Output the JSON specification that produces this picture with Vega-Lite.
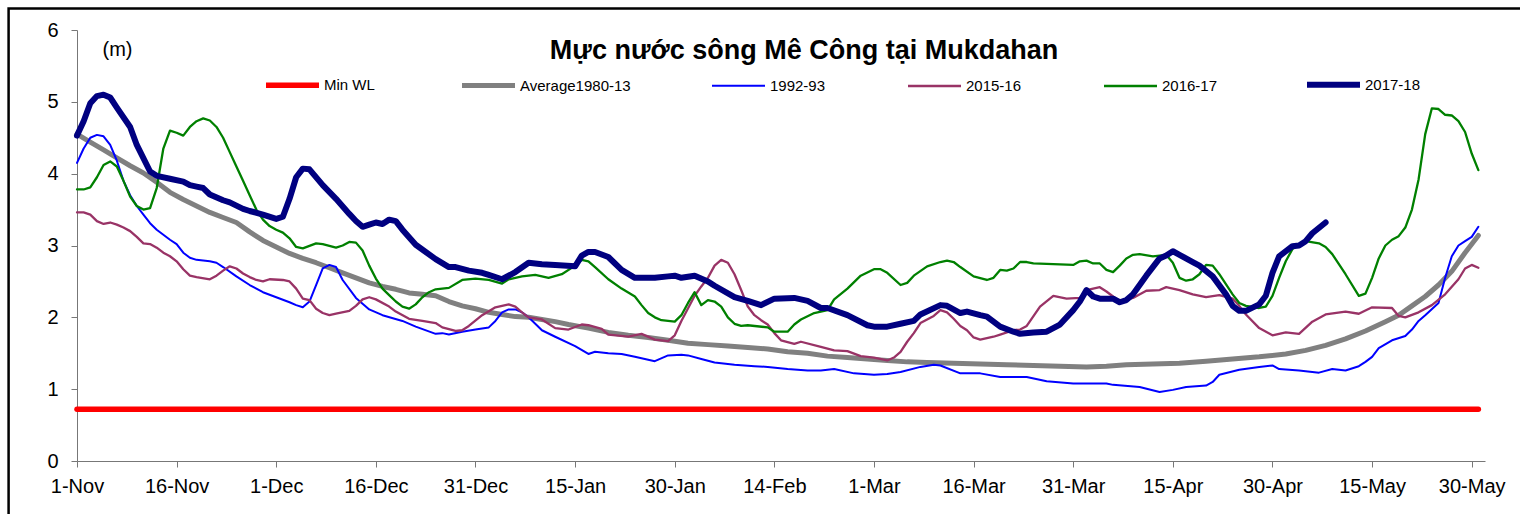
{
  "$schema": "https://vega.github.io/schema/vega-lite/v6.json",
  "width": 1408,
  "height": 431,
  "autosize": {"type": "none"},
  "padding": {"left": 77, "top": 30, "right": 35, "bottom": 53},
  "background": "white",
  "config": {"view": {"stroke": null}, "font": "Liberation Sans"},
  "title": {
    "text": "Mực nước sông Mê Công tại Mukdahan",
    "font": "Liberation Sans",
    "fontSize": 27,
    "fontWeight": "bold",
    "color": "black",
    "anchor": "middle",
    "frame": "group",
    "baseline": "alphabetic",
    "offset": -79,
    "dx": 23
  },
  "layer": [
    {
      "data": {"values": [{}]},
      "mark": {"type": "rect", "fill": null, "stroke": "black", "strokeWidth": 2.5, "clip": false},
      "encoding": {
        "x": {"datum": -10.3, "type": "quantitative"},
        "x2": {"datum": 240},
        "y": {"datum": 6.3, "type": "quantitative"},
        "y2": {"datum": -2}
      }
    },
    {
      "data": {"values": [
        {"series":"Min WL","day":0,"level":0.72},{"series":"Min WL","day":211,"level":0.72},

        {"series":"Average1980-13","day":0,"level":4.55},{"series":"Average1980-13","day":2,"level":4.44},{"series":"Average1980-13","day":4,"level":4.33},{"series":"Average1980-13","day":6,"level":4.22},{"series":"Average1980-13","day":8,"level":4.11},{"series":"Average1980-13","day":10,"level":4.01},{"series":"Average1980-13","day":12,"level":3.88},{"series":"Average1980-13","day":14,"level":3.74},{"series":"Average1980-13","day":16,"level":3.64},{"series":"Average1980-13","day":18,"level":3.55},{"series":"Average1980-13","day":20,"level":3.46},{"series":"Average1980-13","day":22,"level":3.39},{"series":"Average1980-13","day":24,"level":3.32},{"series":"Average1980-13","day":26,"level":3.19},{"series":"Average1980-13","day":28,"level":3.07},{"series":"Average1980-13","day":30,"level":2.98},{"series":"Average1980-13","day":32,"level":2.89},{"series":"Average1980-13","day":34,"level":2.82},{"series":"Average1980-13","day":36,"level":2.76},{"series":"Average1980-13","day":38,"level":2.69},{"series":"Average1980-13","day":40,"level":2.62},{"series":"Average1980-13","day":42,"level":2.55},{"series":"Average1980-13","day":44,"level":2.48},{"series":"Average1980-13","day":46,"level":2.43},{"series":"Average1980-13","day":48,"level":2.39},{"series":"Average1980-13","day":50,"level":2.34},{"series":"Average1980-13","day":52,"level":2.32},{"series":"Average1980-13","day":54,"level":2.30},{"series":"Average1980-13","day":56,"level":2.22},{"series":"Average1980-13","day":58,"level":2.16},{"series":"Average1980-13","day":60,"level":2.12},{"series":"Average1980-13","day":62,"level":2.07},{"series":"Average1980-13","day":64,"level":2.04},{"series":"Average1980-13","day":66,"level":2.01},{"series":"Average1980-13","day":68,"level":2.00},{"series":"Average1980-13","day":70,"level":1.97},{"series":"Average1980-13","day":72,"level":1.94},{"series":"Average1980-13","day":74,"level":1.90},{"series":"Average1980-13","day":77,"level":1.85},{"series":"Average1980-13","day":80,"level":1.79},{"series":"Average1980-13","day":83,"level":1.75},{"series":"Average1980-13","day":86,"level":1.72},{"series":"Average1980-13","day":89,"level":1.68},{"series":"Average1980-13","day":92,"level":1.64},{"series":"Average1980-13","day":95,"level":1.62},{"series":"Average1980-13","day":98,"level":1.60},{"series":"Average1980-13","day":101,"level":1.58},{"series":"Average1980-13","day":104,"level":1.56},{"series":"Average1980-13","day":107,"level":1.52},{"series":"Average1980-13","day":110,"level":1.50},{"series":"Average1980-13","day":113,"level":1.46},{"series":"Average1980-13","day":116,"level":1.44},{"series":"Average1980-13","day":119,"level":1.42},{"series":"Average1980-13","day":122,"level":1.40},{"series":"Average1980-13","day":125,"level":1.38},{"series":"Average1980-13","day":128,"level":1.37},{"series":"Average1980-13","day":132,"level":1.36},{"series":"Average1980-13","day":136,"level":1.35},{"series":"Average1980-13","day":140,"level":1.34},{"series":"Average1980-13","day":144,"level":1.33},{"series":"Average1980-13","day":148,"level":1.32},{"series":"Average1980-13","day":152,"level":1.31},{"series":"Average1980-13","day":155,"level":1.32},{"series":"Average1980-13","day":158,"level":1.34},{"series":"Average1980-13","day":162,"level":1.35},{"series":"Average1980-13","day":166,"level":1.36},{"series":"Average1980-13","day":170,"level":1.39},{"series":"Average1980-13","day":174,"level":1.42},{"series":"Average1980-13","day":178,"level":1.45},{"series":"Average1980-13","day":182,"level":1.49},{"series":"Average1980-13","day":185,"level":1.54},{"series":"Average1980-13","day":188,"level":1.61},{"series":"Average1980-13","day":191,"level":1.70},{"series":"Average1980-13","day":194,"level":1.81},{"series":"Average1980-13","day":197,"level":1.94},{"series":"Average1980-13","day":199,"level":2.03},{"series":"Average1980-13","day":201,"level":2.16},{"series":"Average1980-13","day":203,"level":2.29},{"series":"Average1980-13","day":205,"level":2.45},{"series":"Average1980-13","day":207,"level":2.64},{"series":"Average1980-13","day":209,"level":2.90},{"series":"Average1980-13","day":211,"level":3.14},

        {"series":"1992-93","day":0,"level":4.15},{"series":"1992-93","day":1,"level":4.35},{"series":"1992-93","day":2,"level":4.50},{"series":"1992-93","day":3,"level":4.54},{"series":"1992-93","day":4,"level":4.52},{"series":"1992-93","day":5,"level":4.40},{"series":"1992-93","day":6,"level":4.18},{"series":"1992-93","day":7,"level":3.90},{"series":"1992-93","day":8,"level":3.70},{"series":"1992-93","day":9,"level":3.55},{"series":"1992-93","day":10,"level":3.43},{"series":"1992-93","day":11,"level":3.31},{"series":"1992-93","day":12,"level":3.22},{"series":"1992-93","day":14,"level":3.08},{"series":"1992-93","day":15,"level":3.02},{"series":"1992-93","day":16,"level":2.90},{"series":"1992-93","day":17,"level":2.83},{"series":"1992-93","day":18,"level":2.80},{"series":"1992-93","day":20,"level":2.78},{"series":"1992-93","day":21,"level":2.76},{"series":"1992-93","day":22,"level":2.70},{"series":"1992-93","day":24,"level":2.57},{"series":"1992-93","day":26,"level":2.45},{"series":"1992-93","day":28,"level":2.35},{"series":"1992-93","day":30,"level":2.28},{"series":"1992-93","day":32,"level":2.21},{"series":"1992-93","day":33,"level":2.17},{"series":"1992-93","day":34,"level":2.14},{"series":"1992-93","day":35,"level":2.22},{"series":"1992-93","day":36,"level":2.45},{"series":"1992-93","day":37,"level":2.68},{"series":"1992-93","day":38,"level":2.73},{"series":"1992-93","day":39,"level":2.70},{"series":"1992-93","day":40,"level":2.52},{"series":"1992-93","day":42,"level":2.27},{"series":"1992-93","day":44,"level":2.11},{"series":"1992-93","day":46,"level":2.03},{"series":"1992-93","day":49,"level":1.95},{"series":"1992-93","day":51,"level":1.87},{"series":"1992-93","day":54,"level":1.77},{"series":"1992-93","day":55,"level":1.78},{"series":"1992-93","day":56,"level":1.76},{"series":"1992-93","day":58,"level":1.80},{"series":"1992-93","day":60,"level":1.83},{"series":"1992-93","day":62,"level":1.86},{"series":"1992-93","day":63,"level":1.95},{"series":"1992-93","day":64,"level":2.07},{"series":"1992-93","day":65,"level":2.11},{"series":"1992-93","day":66,"level":2.11},{"series":"1992-93","day":67,"level":2.07},{"series":"1992-93","day":68,"level":2.00},{"series":"1992-93","day":70,"level":1.82},{"series":"1992-93","day":72,"level":1.73},{"series":"1992-93","day":75,"level":1.60},{"series":"1992-93","day":77,"level":1.49},{"series":"1992-93","day":78,"level":1.52},{"series":"1992-93","day":80,"level":1.50},{"series":"1992-93","day":82,"level":1.49},{"series":"1992-93","day":84,"level":1.45},{"series":"1992-93","day":86,"level":1.41},{"series":"1992-93","day":87,"level":1.39},{"series":"1992-93","day":89,"level":1.47},{"series":"1992-93","day":91,"level":1.48},{"series":"1992-93","day":92,"level":1.47},{"series":"1992-93","day":94,"level":1.42},{"series":"1992-93","day":96,"level":1.37},{"series":"1992-93","day":99,"level":1.34},{"series":"1992-93","day":102,"level":1.32},{"series":"1992-93","day":104,"level":1.31},{"series":"1992-93","day":107,"level":1.28},{"series":"1992-93","day":110,"level":1.26},{"series":"1992-93","day":112,"level":1.26},{"series":"1992-93","day":114,"level":1.28},{"series":"1992-93","day":117,"level":1.22},{"series":"1992-93","day":120,"level":1.20},{"series":"1992-93","day":122,"level":1.21},{"series":"1992-93","day":124,"level":1.24},{"series":"1992-93","day":127,"level":1.31},{"series":"1992-93","day":129,"level":1.34},{"series":"1992-93","day":130,"level":1.33},{"series":"1992-93","day":133,"level":1.22},{"series":"1992-93","day":136,"level":1.22},{"series":"1992-93","day":139,"level":1.17},{"series":"1992-93","day":143,"level":1.17},{"series":"1992-93","day":146,"level":1.11},{"series":"1992-93","day":150,"level":1.08},{"series":"1992-93","day":155,"level":1.08},{"series":"1992-93","day":156,"level":1.06},{"series":"1992-93","day":160,"level":1.03},{"series":"1992-93","day":163,"level":0.96},{"series":"1992-93","day":165,"level":0.99},{"series":"1992-93","day":167,"level":1.03},{"series":"1992-93","day":170,"level":1.05},{"series":"1992-93","day":171,"level":1.10},{"series":"1992-93","day":172,"level":1.20},{"series":"1992-93","day":175,"level":1.27},{"series":"1992-93","day":178,"level":1.31},{"series":"1992-93","day":180,"level":1.33},{"series":"1992-93","day":181,"level":1.28},{"series":"1992-93","day":184,"level":1.26},{"series":"1992-93","day":187,"level":1.23},{"series":"1992-93","day":189,"level":1.28},{"series":"1992-93","day":191,"level":1.26},{"series":"1992-93","day":193,"level":1.32},{"series":"1992-93","day":194,"level":1.38},{"series":"1992-93","day":195,"level":1.45},{"series":"1992-93","day":196,"level":1.57},{"series":"1992-93","day":198,"level":1.68},{"series":"1992-93","day":200,"level":1.74},{"series":"1992-93","day":201,"level":1.83},{"series":"1992-93","day":202,"level":1.95},{"series":"1992-93","day":203,"level":2.03},{"series":"1992-93","day":205,"level":2.20},{"series":"1992-93","day":206,"level":2.55},{"series":"1992-93","day":207,"level":2.85},{"series":"1992-93","day":208,"level":3.00},{"series":"1992-93","day":209,"level":3.06},{"series":"1992-93","day":210,"level":3.12},{"series":"1992-93","day":211,"level":3.26},

        {"series":"2015-16","day":0,"level":3.46},{"series":"2015-16","day":1,"level":3.46},{"series":"2015-16","day":2,"level":3.43},{"series":"2015-16","day":3,"level":3.34},{"series":"2015-16","day":4,"level":3.30},{"series":"2015-16","day":5,"level":3.32},{"series":"2015-16","day":6,"level":3.29},{"series":"2015-16","day":7,"level":3.25},{"series":"2015-16","day":8,"level":3.20},{"series":"2015-16","day":9,"level":3.12},{"series":"2015-16","day":10,"level":3.03},{"series":"2015-16","day":11,"level":3.02},{"series":"2015-16","day":12,"level":2.97},{"series":"2015-16","day":13,"level":2.90},{"series":"2015-16","day":14,"level":2.85},{"series":"2015-16","day":15,"level":2.78},{"series":"2015-16","day":16,"level":2.67},{"series":"2015-16","day":17,"level":2.58},{"series":"2015-16","day":18,"level":2.56},{"series":"2015-16","day":20,"level":2.53},{"series":"2015-16","day":21,"level":2.58},{"series":"2015-16","day":22,"level":2.65},{"series":"2015-16","day":23,"level":2.71},{"series":"2015-16","day":24,"level":2.68},{"series":"2015-16","day":25,"level":2.61},{"series":"2015-16","day":26,"level":2.56},{"series":"2015-16","day":27,"level":2.52},{"series":"2015-16","day":28,"level":2.50},{"series":"2015-16","day":29,"level":2.53},{"series":"2015-16","day":31,"level":2.52},{"series":"2015-16","day":32,"level":2.50},{"series":"2015-16","day":33,"level":2.40},{"series":"2015-16","day":34,"level":2.26},{"series":"2015-16","day":35,"level":2.24},{"series":"2015-16","day":36,"level":2.12},{"series":"2015-16","day":37,"level":2.06},{"series":"2015-16","day":38,"level":2.03},{"series":"2015-16","day":39,"level":2.05},{"series":"2015-16","day":41,"level":2.09},{"series":"2015-16","day":42,"level":2.16},{"series":"2015-16","day":43,"level":2.25},{"series":"2015-16","day":44,"level":2.28},{"series":"2015-16","day":45,"level":2.25},{"series":"2015-16","day":47,"level":2.15},{"series":"2015-16","day":48,"level":2.08},{"series":"2015-16","day":50,"level":1.98},{"series":"2015-16","day":52,"level":1.95},{"series":"2015-16","day":54,"level":1.92},{"series":"2015-16","day":55,"level":1.86},{"series":"2015-16","day":57,"level":1.81},{"series":"2015-16","day":58,"level":1.82},{"series":"2015-16","day":59,"level":1.88},{"series":"2015-16","day":61,"level":2.03},{"series":"2015-16","day":63,"level":2.14},{"series":"2015-16","day":65,"level":2.18},{"series":"2015-16","day":66,"level":2.15},{"series":"2015-16","day":67,"level":2.07},{"series":"2015-16","day":68,"level":2.00},{"series":"2015-16","day":70,"level":1.97},{"series":"2015-16","day":72,"level":1.85},{"series":"2015-16","day":74,"level":1.83},{"series":"2015-16","day":76,"level":1.90},{"series":"2015-16","day":77,"level":1.89},{"series":"2015-16","day":79,"level":1.84},{"series":"2015-16","day":80,"level":1.76},{"series":"2015-16","day":83,"level":1.73},{"series":"2015-16","day":85,"level":1.77},{"series":"2015-16","day":87,"level":1.69},{"series":"2015-16","day":89,"level":1.67},{"series":"2015-16","day":90,"level":1.75},{"series":"2015-16","day":91,"level":1.95},{"series":"2015-16","day":93,"level":2.30},{"series":"2015-16","day":94,"level":2.43},{"series":"2015-16","day":95,"level":2.55},{"series":"2015-16","day":96,"level":2.72},{"series":"2015-16","day":97,"level":2.80},{"series":"2015-16","day":98,"level":2.76},{"series":"2015-16","day":99,"level":2.60},{"series":"2015-16","day":100,"level":2.38},{"series":"2015-16","day":101,"level":2.15},{"series":"2015-16","day":102,"level":2.03},{"series":"2015-16","day":103,"level":1.96},{"series":"2015-16","day":104,"level":1.90},{"series":"2015-16","day":105,"level":1.78},{"series":"2015-16","day":106,"level":1.68},{"series":"2015-16","day":108,"level":1.63},{"series":"2015-16","day":109,"level":1.66},{"series":"2015-16","day":112,"level":1.59},{"series":"2015-16","day":114,"level":1.54},{"series":"2015-16","day":116,"level":1.53},{"series":"2015-16","day":118,"level":1.46},{"series":"2015-16","day":120,"level":1.44},{"series":"2015-16","day":122,"level":1.40},{"series":"2015-16","day":123,"level":1.44},{"series":"2015-16","day":124,"level":1.52},{"series":"2015-16","day":125,"level":1.66},{"series":"2015-16","day":126,"level":1.78},{"series":"2015-16","day":127,"level":1.92},{"series":"2015-16","day":129,"level":2.02},{"series":"2015-16","day":130,"level":2.10},{"series":"2015-16","day":131,"level":2.07},{"series":"2015-16","day":132,"level":1.98},{"series":"2015-16","day":133,"level":1.88},{"series":"2015-16","day":134,"level":1.82},{"series":"2015-16","day":135,"level":1.72},{"series":"2015-16","day":136,"level":1.69},{"series":"2015-16","day":138,"level":1.73},{"series":"2015-16","day":139,"level":1.76},{"series":"2015-16","day":141,"level":1.82},{"series":"2015-16","day":142,"level":1.83},{"series":"2015-16","day":143,"level":1.88},{"series":"2015-16","day":145,"level":2.15},{"series":"2015-16","day":147,"level":2.30},{"series":"2015-16","day":149,"level":2.26},{"series":"2015-16","day":151,"level":2.27},{"series":"2015-16","day":152,"level":2.38},{"series":"2015-16","day":154,"level":2.42},{"series":"2015-16","day":155,"level":2.36},{"series":"2015-16","day":157,"level":2.22},{"series":"2015-16","day":159,"level":2.27},{"series":"2015-16","day":161,"level":2.37},{"series":"2015-16","day":163,"level":2.38},{"series":"2015-16","day":164,"level":2.42},{"series":"2015-16","day":166,"level":2.38},{"series":"2015-16","day":168,"level":2.32},{"series":"2015-16","day":170,"level":2.28},{"series":"2015-16","day":172,"level":2.31},{"series":"2015-16","day":174,"level":2.26},{"series":"2015-16","day":175,"level":2.16},{"series":"2015-16","day":176,"level":2.04},{"series":"2015-16","day":178,"level":1.85},{"series":"2015-16","day":180,"level":1.75},{"series":"2015-16","day":182,"level":1.79},{"series":"2015-16","day":184,"level":1.77},{"series":"2015-16","day":186,"level":1.94},{"series":"2015-16","day":188,"level":2.04},{"series":"2015-16","day":191,"level":2.08},{"series":"2015-16","day":193,"level":2.05},{"series":"2015-16","day":195,"level":2.14},{"series":"2015-16","day":198,"level":2.13},{"series":"2015-16","day":199,"level":2.02},{"series":"2015-16","day":200,"level":2.00},{"series":"2015-16","day":202,"level":2.07},{"series":"2015-16","day":204,"level":2.17},{"series":"2015-16","day":206,"level":2.32},{"series":"2015-16","day":208,"level":2.53},{"series":"2015-16","day":209,"level":2.68},{"series":"2015-16","day":210,"level":2.73},{"series":"2015-16","day":211,"level":2.69},

        {"series":"2016-17","day":0,"level":3.78},{"series":"2016-17","day":1,"level":3.78},{"series":"2016-17","day":2,"level":3.81},{"series":"2016-17","day":3,"level":3.95},{"series":"2016-17","day":4,"level":4.12},{"series":"2016-17","day":5,"level":4.17},{"series":"2016-17","day":6,"level":4.10},{"series":"2016-17","day":7,"level":3.90},{"series":"2016-17","day":8,"level":3.68},{"series":"2016-17","day":9,"level":3.55},{"series":"2016-17","day":10,"level":3.50},{"series":"2016-17","day":11,"level":3.52},{"series":"2016-17","day":12,"level":3.80},{"series":"2016-17","day":13,"level":4.35},{"series":"2016-17","day":14,"level":4.60},{"series":"2016-17","day":15,"level":4.57},{"series":"2016-17","day":16,"level":4.53},{"series":"2016-17","day":17,"level":4.65},{"series":"2016-17","day":18,"level":4.73},{"series":"2016-17","day":19,"level":4.77},{"series":"2016-17","day":20,"level":4.74},{"series":"2016-17","day":21,"level":4.65},{"series":"2016-17","day":22,"level":4.50},{"series":"2016-17","day":23,"level":4.30},{"series":"2016-17","day":24,"level":4.10},{"series":"2016-17","day":25,"level":3.90},{"series":"2016-17","day":26,"level":3.70},{"series":"2016-17","day":27,"level":3.50},{"series":"2016-17","day":28,"level":3.36},{"series":"2016-17","day":29,"level":3.27},{"series":"2016-17","day":30,"level":3.22},{"series":"2016-17","day":31,"level":3.18},{"series":"2016-17","day":32,"level":3.10},{"series":"2016-17","day":33,"level":2.98},{"series":"2016-17","day":34,"level":2.96},{"series":"2016-17","day":36,"level":3.03},{"series":"2016-17","day":37,"level":3.02},{"series":"2016-17","day":39,"level":2.97},{"series":"2016-17","day":40,"level":3.00},{"series":"2016-17","day":41,"level":3.05},{"series":"2016-17","day":42,"level":3.04},{"series":"2016-17","day":43,"level":2.93},{"series":"2016-17","day":44,"level":2.72},{"series":"2016-17","day":45,"level":2.54},{"series":"2016-17","day":46,"level":2.40},{"series":"2016-17","day":47,"level":2.31},{"series":"2016-17","day":48,"level":2.22},{"series":"2016-17","day":49,"level":2.15},{"series":"2016-17","day":50,"level":2.12},{"series":"2016-17","day":51,"level":2.18},{"series":"2016-17","day":52,"level":2.28},{"series":"2016-17","day":53,"level":2.35},{"series":"2016-17","day":54,"level":2.39},{"series":"2016-17","day":56,"level":2.41},{"series":"2016-17","day":58,"level":2.52},{"series":"2016-17","day":60,"level":2.54},{"series":"2016-17","day":62,"level":2.52},{"series":"2016-17","day":64,"level":2.47},{"series":"2016-17","day":65,"level":2.53},{"series":"2016-17","day":67,"level":2.57},{"series":"2016-17","day":69,"level":2.59},{"series":"2016-17","day":71,"level":2.55},{"series":"2016-17","day":73,"level":2.60},{"series":"2016-17","day":75,"level":2.72},{"series":"2016-17","day":76,"level":2.80},{"series":"2016-17","day":77,"level":2.78},{"series":"2016-17","day":78,"level":2.70},{"series":"2016-17","day":80,"level":2.53},{"series":"2016-17","day":82,"level":2.40},{"series":"2016-17","day":84,"level":2.29},{"series":"2016-17","day":85,"level":2.17},{"series":"2016-17","day":86,"level":2.06},{"series":"2016-17","day":87,"level":2.00},{"series":"2016-17","day":88,"level":1.96},{"series":"2016-17","day":90,"level":1.94},{"series":"2016-17","day":91,"level":2.03},{"series":"2016-17","day":92,"level":2.20},{"series":"2016-17","day":93,"level":2.35},{"series":"2016-17","day":94,"level":2.17},{"series":"2016-17","day":95,"level":2.24},{"series":"2016-17","day":96,"level":2.22},{"series":"2016-17","day":97,"level":2.15},{"series":"2016-17","day":98,"level":2.00},{"series":"2016-17","day":99,"level":1.91},{"series":"2016-17","day":100,"level":1.88},{"series":"2016-17","day":101,"level":1.89},{"series":"2016-17","day":104,"level":1.86},{"series":"2016-17","day":105,"level":1.80},{"series":"2016-17","day":107,"level":1.80},{"series":"2016-17","day":108,"level":1.90},{"series":"2016-17","day":109,"level":1.97},{"series":"2016-17","day":111,"level":2.06},{"series":"2016-17","day":113,"level":2.10},{"series":"2016-17","day":114,"level":2.25},{"series":"2016-17","day":116,"level":2.40},{"series":"2016-17","day":118,"level":2.58},{"series":"2016-17","day":120,"level":2.67},{"series":"2016-17","day":121,"level":2.67},{"series":"2016-17","day":122,"level":2.62},{"series":"2016-17","day":124,"level":2.45},{"series":"2016-17","day":125,"level":2.48},{"series":"2016-17","day":126,"level":2.58},{"series":"2016-17","day":128,"level":2.71},{"series":"2016-17","day":130,"level":2.77},{"series":"2016-17","day":131,"level":2.79},{"series":"2016-17","day":132,"level":2.77},{"series":"2016-17","day":133,"level":2.70},{"series":"2016-17","day":135,"level":2.57},{"series":"2016-17","day":137,"level":2.52},{"series":"2016-17","day":138,"level":2.55},{"series":"2016-17","day":139,"level":2.66},{"series":"2016-17","day":140,"level":2.65},{"series":"2016-17","day":141,"level":2.68},{"series":"2016-17","day":142,"level":2.77},{"series":"2016-17","day":143,"level":2.77},{"series":"2016-17","day":144,"level":2.75},{"series":"2016-17","day":150,"level":2.73},{"series":"2016-17","day":151,"level":2.78},{"series":"2016-17","day":152,"level":2.79},{"series":"2016-17","day":153,"level":2.75},{"series":"2016-17","day":154,"level":2.75},{"series":"2016-17","day":155,"level":2.66},{"series":"2016-17","day":156,"level":2.63},{"series":"2016-17","day":157,"level":2.72},{"series":"2016-17","day":158,"level":2.82},{"series":"2016-17","day":159,"level":2.87},{"series":"2016-17","day":160,"level":2.88},{"series":"2016-17","day":162,"level":2.85},{"series":"2016-17","day":164,"level":2.87},{"series":"2016-17","day":165,"level":2.76},{"series":"2016-17","day":166,"level":2.55},{"series":"2016-17","day":167,"level":2.51},{"series":"2016-17","day":168,"level":2.53},{"series":"2016-17","day":169,"level":2.60},{"series":"2016-17","day":170,"level":2.73},{"series":"2016-17","day":171,"level":2.72},{"series":"2016-17","day":172,"level":2.60},{"series":"2016-17","day":174,"level":2.32},{"series":"2016-17","day":175,"level":2.20},{"series":"2016-17","day":176,"level":2.16},{"series":"2016-17","day":178,"level":2.13},{"series":"2016-17","day":179,"level":2.15},{"series":"2016-17","day":180,"level":2.30},{"series":"2016-17","day":181,"level":2.55},{"series":"2016-17","day":182,"level":2.78},{"series":"2016-17","day":183,"level":2.95},{"series":"2016-17","day":185,"level":3.06},{"series":"2016-17","day":187,"level":3.03},{"series":"2016-17","day":188,"level":2.98},{"series":"2016-17","day":189,"level":2.88},{"series":"2016-17","day":191,"level":2.60},{"series":"2016-17","day":193,"level":2.30},{"series":"2016-17","day":194,"level":2.33},{"series":"2016-17","day":195,"level":2.55},{"series":"2016-17","day":196,"level":2.82},{"series":"2016-17","day":197,"level":3.00},{"series":"2016-17","day":198,"level":3.08},{"series":"2016-17","day":199,"level":3.13},{"series":"2016-17","day":200,"level":3.25},{"series":"2016-17","day":201,"level":3.50},{"series":"2016-17","day":202,"level":3.92},{"series":"2016-17","day":203,"level":4.55},{"series":"2016-17","day":204,"level":4.91},{"series":"2016-17","day":205,"level":4.90},{"series":"2016-17","day":206,"level":4.82},{"series":"2016-17","day":207,"level":4.81},{"series":"2016-17","day":208,"level":4.73},{"series":"2016-17","day":209,"level":4.58},{"series":"2016-17","day":210,"level":4.28},{"series":"2016-17","day":211,"level":4.05},

        {"series":"2017-18","day":0,"level":4.53},{"series":"2017-18","day":1,"level":4.73},{"series":"2017-18","day":2,"level":4.98},{"series":"2017-18","day":3,"level":5.08},{"series":"2017-18","day":4,"level":5.10},{"series":"2017-18","day":5,"level":5.06},{"series":"2017-18","day":6,"level":4.92},{"series":"2017-18","day":8,"level":4.65},{"series":"2017-18","day":9,"level":4.40},{"series":"2017-18","day":11,"level":4.03},{"series":"2017-18","day":12,"level":3.97},{"series":"2017-18","day":14,"level":3.93},{"series":"2017-18","day":16,"level":3.89},{"series":"2017-18","day":17,"level":3.84},{"series":"2017-18","day":18,"level":3.82},{"series":"2017-18","day":19,"level":3.80},{"series":"2017-18","day":20,"level":3.71},{"series":"2017-18","day":22,"level":3.63},{"series":"2017-18","day":23,"level":3.60},{"series":"2017-18","day":25,"level":3.51},{"series":"2017-18","day":26,"level":3.48},{"series":"2017-18","day":28,"level":3.43},{"series":"2017-18","day":30,"level":3.37},{"series":"2017-18","day":31,"level":3.40},{"series":"2017-18","day":32,"level":3.65},{"series":"2017-18","day":33,"level":3.95},{"series":"2017-18","day":34,"level":4.07},{"series":"2017-18","day":35,"level":4.06},{"series":"2017-18","day":37,"level":3.84},{"series":"2017-18","day":39,"level":3.65},{"series":"2017-18","day":41,"level":3.44},{"series":"2017-18","day":42,"level":3.34},{"series":"2017-18","day":43,"level":3.26},{"series":"2017-18","day":44,"level":3.29},{"series":"2017-18","day":45,"level":3.32},{"series":"2017-18","day":46,"level":3.30},{"series":"2017-18","day":47,"level":3.36},{"series":"2017-18","day":48,"level":3.34},{"series":"2017-18","day":49,"level":3.22},{"series":"2017-18","day":51,"level":3.01},{"series":"2017-18","day":54,"level":2.81},{"series":"2017-18","day":56,"level":2.70},{"series":"2017-18","day":57,"level":2.70},{"series":"2017-18","day":59,"level":2.65},{"series":"2017-18","day":61,"level":2.62},{"series":"2017-18","day":62,"level":2.59},{"series":"2017-18","day":64,"level":2.53},{"series":"2017-18","day":66,"level":2.63},{"series":"2017-18","day":68,"level":2.76},{"series":"2017-18","day":70,"level":2.74},{"series":"2017-18","day":72,"level":2.73},{"series":"2017-18","day":75,"level":2.71},{"series":"2017-18","day":76,"level":2.86},{"series":"2017-18","day":77,"level":2.91},{"series":"2017-18","day":78,"level":2.91},{"series":"2017-18","day":80,"level":2.84},{"series":"2017-18","day":82,"level":2.66},{"series":"2017-18","day":84,"level":2.55},{"series":"2017-18","day":87,"level":2.55},{"series":"2017-18","day":89,"level":2.57},{"series":"2017-18","day":90,"level":2.58},{"series":"2017-18","day":91,"level":2.55},{"series":"2017-18","day":93,"level":2.58},{"series":"2017-18","day":95,"level":2.50},{"series":"2017-18","day":96,"level":2.44},{"series":"2017-18","day":99,"level":2.28},{"series":"2017-18","day":101,"level":2.23},{"series":"2017-18","day":103,"level":2.17},{"series":"2017-18","day":105,"level":2.26},{"series":"2017-18","day":108,"level":2.27},{"series":"2017-18","day":110,"level":2.23},{"series":"2017-18","day":112,"level":2.13},{"series":"2017-18","day":113,"level":2.13},{"series":"2017-18","day":116,"level":2.03},{"series":"2017-18","day":119,"level":1.89},{"series":"2017-18","day":120,"level":1.87},{"series":"2017-18","day":122,"level":1.87},{"series":"2017-18","day":124,"level":1.91},{"series":"2017-18","day":126,"level":1.95},{"series":"2017-18","day":127,"level":2.04},{"series":"2017-18","day":130,"level":2.17},{"series":"2017-18","day":131,"level":2.16},{"series":"2017-18","day":133,"level":2.06},{"series":"2017-18","day":134,"level":2.08},{"series":"2017-18","day":136,"level":2.03},{"series":"2017-18","day":137,"level":2.01},{"series":"2017-18","day":139,"level":1.87},{"series":"2017-18","day":141,"level":1.80},{"series":"2017-18","day":142,"level":1.77},{"series":"2017-18","day":144,"level":1.79},{"series":"2017-18","day":146,"level":1.80},{"series":"2017-18","day":148,"level":1.90},{"series":"2017-18","day":150,"level":2.10},{"series":"2017-18","day":151,"level":2.22},{"series":"2017-18","day":152,"level":2.38},{"series":"2017-18","day":153,"level":2.29},{"series":"2017-18","day":154,"level":2.26},{"series":"2017-18","day":156,"level":2.26},{"series":"2017-18","day":157,"level":2.21},{"series":"2017-18","day":158,"level":2.24},{"series":"2017-18","day":159,"level":2.32},{"series":"2017-18","day":160,"level":2.45},{"series":"2017-18","day":161,"level":2.58},{"series":"2017-18","day":163,"level":2.82},{"series":"2017-18","day":164,"level":2.86},{"series":"2017-18","day":165,"level":2.92},{"series":"2017-18","day":166,"level":2.87},{"series":"2017-18","day":168,"level":2.77},{"series":"2017-18","day":169,"level":2.72},{"series":"2017-18","day":171,"level":2.57},{"series":"2017-18","day":173,"level":2.32},{"series":"2017-18","day":174,"level":2.16},{"series":"2017-18","day":175,"level":2.09},{"series":"2017-18","day":176,"level":2.09},{"series":"2017-18","day":178,"level":2.18},{"series":"2017-18","day":179,"level":2.30},{"series":"2017-18","day":180,"level":2.62},{"series":"2017-18","day":181,"level":2.85},{"series":"2017-18","day":183,"level":2.99},{"series":"2017-18","day":184,"level":3.00},{"series":"2017-18","day":185,"level":3.06},{"series":"2017-18","day":186,"level":3.17},{"series":"2017-18","day":188,"level":3.32}
      ]},
      "mark": {"type": "line", "strokeCap": "round", "strokeJoin": "round", "clip": false},
      "encoding": {
        "x": {
          "field": "day",
          "type": "quantitative",
          "scale": {"domain": [0, 212], "nice": false, "zero": false},
          "axis": {
            "title": null,
            "values": [0, 15, 30, 45, 60, 75, 90, 105, 120, 135, 150, 165, 180, 195, 210],
            "labelExpr": "utcFormat(utc(2017, 10, 1 + datum.value), '%-d-%b')",
            "labelFont": "Liberation Sans",
            "labelFontSize": 20,
            "labelColor": "black",
            "labelPadding": 9,
            "labelFlush": false,
            "labelOverlap": false,
            "grid": false,
            "domainColor": "#777777",
            "domainWidth": 1,
            "tickColor": "#777777",
            "tickSize": 6,
            "tickWidth": 1
          }
        },
        "y": {
          "field": "level",
          "type": "quantitative",
          "scale": {"domain": [0, 6], "nice": false, "zero": true},
          "axis": {
            "title": "(m)",
            "titleAngle": 0,
            "titleX": 40,
            "titleY": 19,
            "titleAlign": "center",
            "titleBaseline": "middle",
            "titleFont": "Liberation Sans",
            "titleFontSize": 20,
            "titleFontWeight": "normal",
            "titleColor": "black",
            "values": [0, 1, 2, 3, 4, 5, 6],
            "format": "d",
            "labelFont": "Liberation Sans",
            "labelFontSize": 20,
            "labelColor": "black",
            "labelPadding": 13,
            "grid": false,
            "domainColor": "#777777",
            "domainWidth": 1,
            "tickColor": "#777777",
            "tickSize": 6,
            "tickWidth": 1
          }
        },
        "color": {
          "field": "series",
          "type": "nominal",
          "scale": {
            "domain": ["Min WL", "Average1980-13", "1992-93", "2015-16", "2016-17", "2017-18"],
            "range": ["#FF0000", "#808080", "#0000FF", "#993366", "#008000", "#000080"]
          },
          "legend": {
            "title": null,
            "orient": "none",
            "legendX": 186,
            "legendY": 25,
            "direction": "horizontal",
            "columns": 6,
            "padding": 0,
            "symbolType": "stroke",
            "symbolSize": 2809,
            "labelFont": "Liberation Sans",
            "labelFontSize": 15,
            "labelColor": "black",
            "labelOffset": 2,
            "columnPadding": 77
          }
        },
        "strokeWidth": {
          "field": "series",
          "type": "nominal",
          "scale": {
            "type": "ordinal",
            "domain": ["Min WL", "Average1980-13", "1992-93", "2015-16", "2016-17", "2017-18"],
            "range": [5.5, 5, 2, 2.3, 2.3, 6]
          }
        }
      }
    }
  ]
}
